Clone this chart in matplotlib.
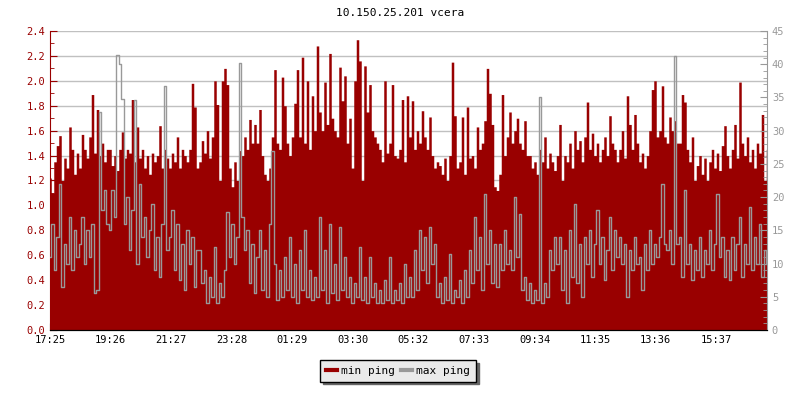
import matplotlib
matplotlib.use('Agg')
import matplotlib.pyplot as plt
from matplotlib.lines import Line2D
from matplotlib.ticker import MultipleLocator
import numpy as np

title = '10.150.25.201 vcera'
tick_labels = ['17:25', '19:26', '21:27', '23:28', '01:29', '03:30',
               '05:32', '07:33', '09:34', '11:35', '13:36', '15:37']

# min ping (left axis), one value every 5 minutes, one row per hour
min_ping = [
    1.22, 1.1, 1.35, 1.48, 1.56, 1.2, 1.38, 1.3, 1.63, 1.45, 1.25, 1.42,
    1.3, 1.57, 1.45, 1.38, 1.55, 1.89, 1.42, 1.77, 1.4, 1.5, 1.35, 1.45,
    1.45, 1.32, 1.4, 1.28, 1.45, 1.59, 1.38, 1.45, 1.42, 1.85, 1.35, 1.63,
    1.38, 1.45, 1.3, 1.4, 1.25, 1.42, 1.35, 1.4, 1.64, 1.3, 1.45, 1.38,
    1.3, 1.42, 1.35, 1.55, 1.3, 1.45, 1.4, 1.35, 1.45, 1.98, 1.79, 1.3,
    1.35, 1.52, 1.42, 1.6, 1.38, 1.55, 2.0, 1.81, 1.2, 2.0, 2.1, 1.97,
    1.3, 1.15, 1.35, 1.2, 1.44, 1.4, 1.55, 1.45, 1.69, 1.5, 1.65, 1.5,
    1.77, 1.4, 1.25, 1.2, 1.3, 1.55, 2.09, 1.5, 1.45, 2.03, 1.8, 1.5,
    1.4, 1.55, 1.82, 2.09, 1.55, 2.19, 1.5, 2.0, 1.45, 1.88, 1.6, 2.28,
    1.75, 1.6, 1.99, 1.65, 2.22, 1.7, 1.6, 1.55, 2.11, 1.84, 2.04, 1.5,
    1.7, 1.3, 2.0, 2.33, 2.16, 1.2, 2.12, 1.75, 1.97, 1.6, 1.55, 1.5,
    1.45, 1.35, 2.0, 1.42, 1.5, 1.97, 1.4, 1.38, 1.45, 1.85, 1.35, 1.88,
    1.55, 1.84, 1.45, 1.6, 1.5, 1.76, 1.55, 1.45, 1.71, 1.4, 1.3, 1.35,
    1.32, 1.25, 1.38, 1.2, 1.4, 2.15, 1.72, 1.3, 1.35, 1.71, 1.25, 1.79,
    1.38, 1.4, 1.3, 1.63, 1.45, 1.5, 1.68, 2.1, 1.9, 1.65, 1.15, 1.12,
    1.25, 1.89, 1.4, 1.55, 1.75, 1.5, 1.6, 1.7, 1.5, 1.45, 1.68, 1.4,
    1.4, 1.3, 1.35, 1.25, 1.45, 1.35, 1.55, 1.3, 1.42, 1.35, 1.28, 1.4,
    1.65, 1.2, 1.4, 1.35, 1.5, 1.3, 1.6, 1.45, 1.52, 1.35, 1.55, 1.83,
    1.45, 1.58, 1.4, 1.5, 1.35, 1.45, 1.55, 1.4, 1.72, 1.5, 1.45, 1.35,
    1.45, 1.6, 1.38, 1.88, 1.65, 1.45, 1.73, 1.5, 1.35, 1.42, 1.3, 1.4,
    1.6, 1.93, 2.0, 1.55, 1.6, 1.96, 1.55, 1.5, 1.71, 1.6, 1.68, 1.5,
    1.5, 1.89, 1.83, 1.45, 1.35, 1.55, 1.2, 1.32, 1.4, 1.25, 1.38, 1.2,
    1.35, 1.45, 1.3, 1.42, 1.28, 1.48, 1.64, 1.4, 1.3, 1.45, 1.65, 1.38,
    1.99, 1.5, 1.4, 1.55, 1.35, 1.45, 1.3, 1.5, 1.42, 1.73, 1.2, 1.45,
]

# max ping (right axis)
max_ping = [
    11, 16, 9, 14, 22, 6.5, 13, 10, 17, 9, 15, 11,
    13, 17, 10, 15, 11, 16, 5.5, 6, 32.8, 18, 21, 16,
    15, 21, 17, 41.4, 40, 34.7, 16, 20, 12, 18, 34.6, 10,
    22, 14, 17, 11, 15, 19, 9, 14, 8, 16, 36.7, 12,
    14, 18, 9, 16, 7.5, 13, 6, 15, 10, 14, 6.5, 12,
    12, 7, 9, 4, 8, 5, 12.5, 4, 7, 5, 9, 17.7,
    11, 16, 10, 14, 40.2, 17, 12, 15, 7, 13, 5.5, 11,
    15, 6, 12, 5, 16, 27, 10, 4.5, 9, 5, 11, 6,
    14, 5, 10, 4, 12, 6, 15, 5, 9, 4.5, 8, 5,
    17, 6, 12, 4, 16, 5.5, 10, 4.5, 15.5, 6, 11, 5,
    8, 4, 7, 5, 12.5, 4.5, 8, 4, 11, 5, 7, 4,
    6, 4, 7.5, 4.5, 11, 4, 6, 4.5, 7, 4, 10, 5,
    8, 5, 12, 6, 15, 9, 14, 7, 15.5, 10, 13, 5,
    7, 4, 8, 4.5, 11.5, 4, 6, 5, 7.5, 4, 9, 5,
    12, 7, 17, 9, 14, 6, 20.5, 10, 15, 7, 13, 6.5,
    13, 9, 15, 10, 12, 9, 20, 11, 17.5, 6, 8, 4.5,
    7, 4, 6, 4.5, 35, 4, 7, 5, 12, 9, 14, 10,
    14, 6, 12, 4, 15, 8, 19, 7, 13, 5, 14, 10,
    15, 8, 13, 18, 10, 14, 7.5, 12, 17, 9, 15, 11,
    14, 10, 13, 5, 12, 9, 14, 10, 11, 6, 13, 9,
    15, 10, 13, 11, 14, 22, 13, 12, 15, 10, 41.2, 13,
    14, 8, 21, 10, 13, 7.5, 12, 9, 14, 8, 12, 10,
    15, 9, 13, 20.5, 11, 14, 8, 12, 7.5, 14, 9, 13,
    17, 8, 13, 10, 18.5, 9, 14, 10, 16, 8, 12, 10,
]

red = '#990000'
grey = '#999999'
mono = 'DejaVu Sans Mono'

minutes = np.arange(len(min_ping)) * 5

def since_start(label):
    h, m = label.split(':')
    t = int(h) * 60 + int(m) - (17 * 60 + 25)
    return t % 1440

tick_pos = [since_start(t) for t in tick_labels]

fig = plt.figure(figsize=(8, 4), dpi=100)
ax = fig.add_axes([50 / 800, 70 / 400, 717 / 800, 299 / 400])
ax2 = ax.twinx()

ax.fill_between(minutes, min_ping, step='mid', color=red, lw=0)
ax2.plot(minutes, max_ping, drawstyle='steps-mid', color=grey, lw=1)

ax.set_xlim(0, 1434)
ax.set_ylim(0, 2.4)
ax2.set_ylim(0, 45)

ax.yaxis.set_major_locator(MultipleLocator(0.2))
ax.yaxis.set_minor_locator(MultipleLocator(0.1))
ax2.yaxis.set_major_locator(MultipleLocator(5))
ax2.yaxis.set_minor_locator(MultipleLocator(1))
ax.set_xticks(tick_pos)
ax.set_xticklabels(tick_labels)
ax.yaxis.set_major_formatter(matplotlib.ticker.FormatStrFormatter('%.1f'))

ax.grid(axis='y', color='#c0c0c0', lw=1)
ax.set_axisbelow(True)

ax.tick_params(axis='y', which='both', direction='in', colors=red, labelsize=7.5)
ax.tick_params(axis='y', which='major', length=5)
ax.tick_params(axis='y', which='minor', length=3)
ax.tick_params(axis='x', direction='in', length=5, labelsize=7.5, colors='black')
ax2.tick_params(axis='y', which='both', direction='in', colors=grey, labelsize=7.5)
ax2.tick_params(axis='y', which='major', length=5)
ax2.tick_params(axis='y', which='minor', length=3)

for a in (ax, ax2):
    for lbl in a.get_xticklabels() + a.get_yticklabels():
        lbl.set_family(mono)
    a.spines['top'].set_visible(False)
ax.spines['left'].set_color(red)
ax.spines['right'].set_visible(False)
ax2.spines['left'].set_visible(False)
ax2.spines['right'].set_color(grey)
ax2.spines['bottom'].set_color('black')

fig.text(0.5, 1 - 13 / 400, title, ha='center', va='center',
         family=mono, fontsize=8)

handles = [Line2D([], [], color=red, lw=3), Line2D([], [], color=grey, lw=3)]
leg = fig.legend(handles, ['min ping', 'max ping'], loc='center',
                 bbox_to_anchor=(398 / 800, 1 - 371 / 400), ncol=2,
                 prop={'family': mono, 'size': 8}, frameon=True,
                 fancybox=False, facecolor='#eaeaea', edgecolor='black',
                 framealpha=1, handlelength=1.0, handletextpad=0.4,
                 columnspacing=0.5, borderpad=0.5,
                 shadow={'color': '#666666', 'alpha': 1})
leg.get_frame().set_linewidth(1)

fig.savefig('out.png', dpi=100)
